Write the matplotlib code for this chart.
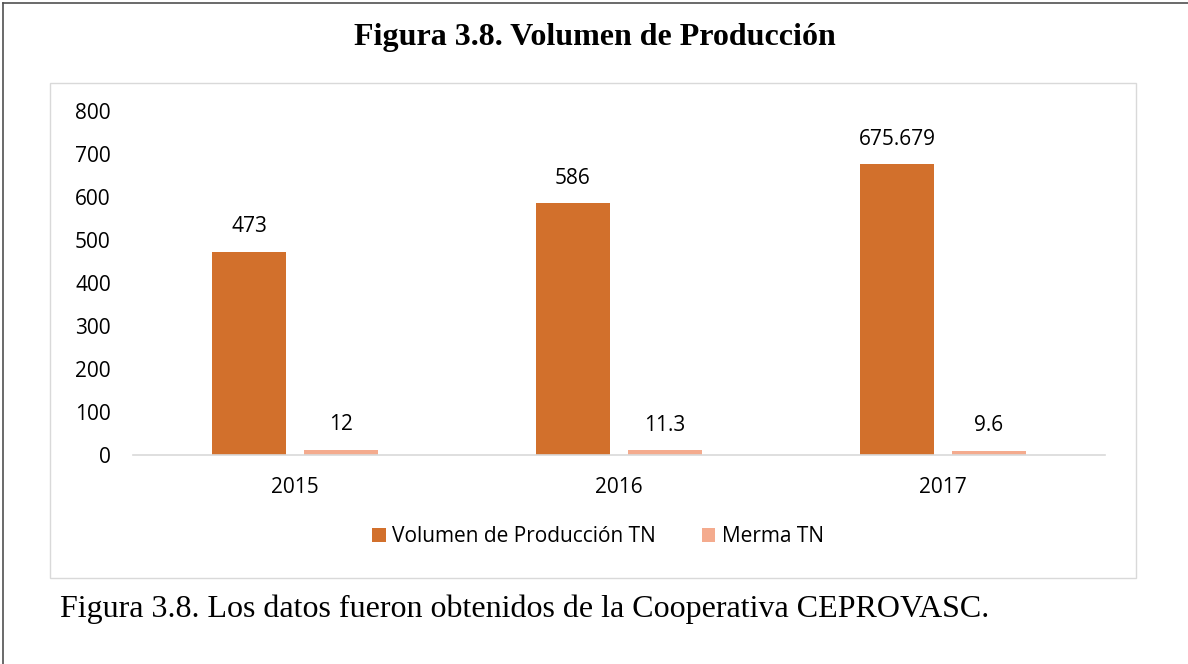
import numpy as np
from matplotlib import pyplot as plt
from matplotlib.patches import Rectangle
from matplotlib.lines import Line2D

years = ['2015', '2016', '2017']
produccion = [473, 586, 675.679]
merma = [12, 11.3, 9.6]
prod_labels = ['473', '586', '675.679']
merma_labels = ['12', '11.3', '9.6']
yticks = [0, 100, 200, 300, 400, 500, 600, 700, 800]

c_prod = '#D2702C'
c_merma = '#F4AB8E'
W, H = 1188, 664
fs = 15

fig = plt.figure(figsize=(W / 100, H / 100), dpi=100)

# outer frame (left and top only) and inner chart box
fig.add_artist(Line2D([3 / W, 3 / W], [0, 1 - 3 / H], color='#505050', lw=1.2))
fig.add_artist(Line2D([3 / W, 1], [1 - 3 / H, 1 - 3 / H], color='#505050', lw=1.2))
fig.add_artist(Rectangle((50 / W, 1 - 578 / H), 1086 / W, 495 / H,
                         fill=False, edgecolor='#D9D9D9', lw=1.0))

fig.text(595 / W, 1 - 38 / H, 'Figura 3.8. Volumen de Producción', ha='center', va='center',
         family='Liberation Serif', fontweight='bold', fontsize=23)
fig.text(60 / W, 1 - 609 / H, 'Figura 3.8. Los datos fueron obtenidos de la Cooperativa CEPROVASC.',
         ha='left', va='center', family='Liberation Serif', fontsize=23)

ax = fig.add_axes([133 / W, 1 - 455 / H, 972 / W, 344 / H])
x = np.arange(len(years))
bw = 0.228
off = 0.142
b1 = ax.bar(x - off, produccion, bw, color=c_prod, label='Volumen de Producción TN')
b2 = ax.bar(x + off, merma, bw, color=c_merma, label='Merma TN')

for rect, lab in zip(b1, prod_labels):
    ax.annotate(lab, (rect.get_x() + rect.get_width() / 2, rect.get_height()),
                xytext=(0, 18), textcoords='offset points', ha='center', va='center',
                family='Open Sans', fontsize=fs)
for rect, lab in zip(b2, merma_labels):
    ax.annotate(lab, (rect.get_x() + rect.get_width() / 2, rect.get_height()),
                xytext=(0, 18), textcoords='offset points', ha='center', va='center',
                family='Open Sans', fontsize=fs)

ax.set_xlim(-0.5, 2.5)
ax.set_ylim(0, 800)
ax.set_yticks(yticks)
ax.set_xticks(x)
ax.set_xticklabels(years)
for lab in ax.get_xticklabels() + ax.get_yticklabels():
    lab.set_family('Open Sans')
    lab.set_fontsize(fs)
ax.tick_params(axis='y', length=0, pad=16)
ax.tick_params(axis='x', length=0, pad=16)
for s in ['top', 'right', 'left']:
    ax.spines[s].set_visible(False)
ax.spines['bottom'].set_color('#D9D9D9')
ax.spines['bottom'].set_linewidth(1.2)

leg = fig.legend(handles=[b1, b2], loc='center', bbox_to_anchor=(598 / W, 1 - 537 / H),
                 ncol=2, frameon=False, handlelength=0.65, handleheight=0.65,
                 handletextpad=0.3, columnspacing=2.2,
                 prop={'family': 'Open Sans', 'size': fs})

plt.savefig('out.png', dpi=100)
